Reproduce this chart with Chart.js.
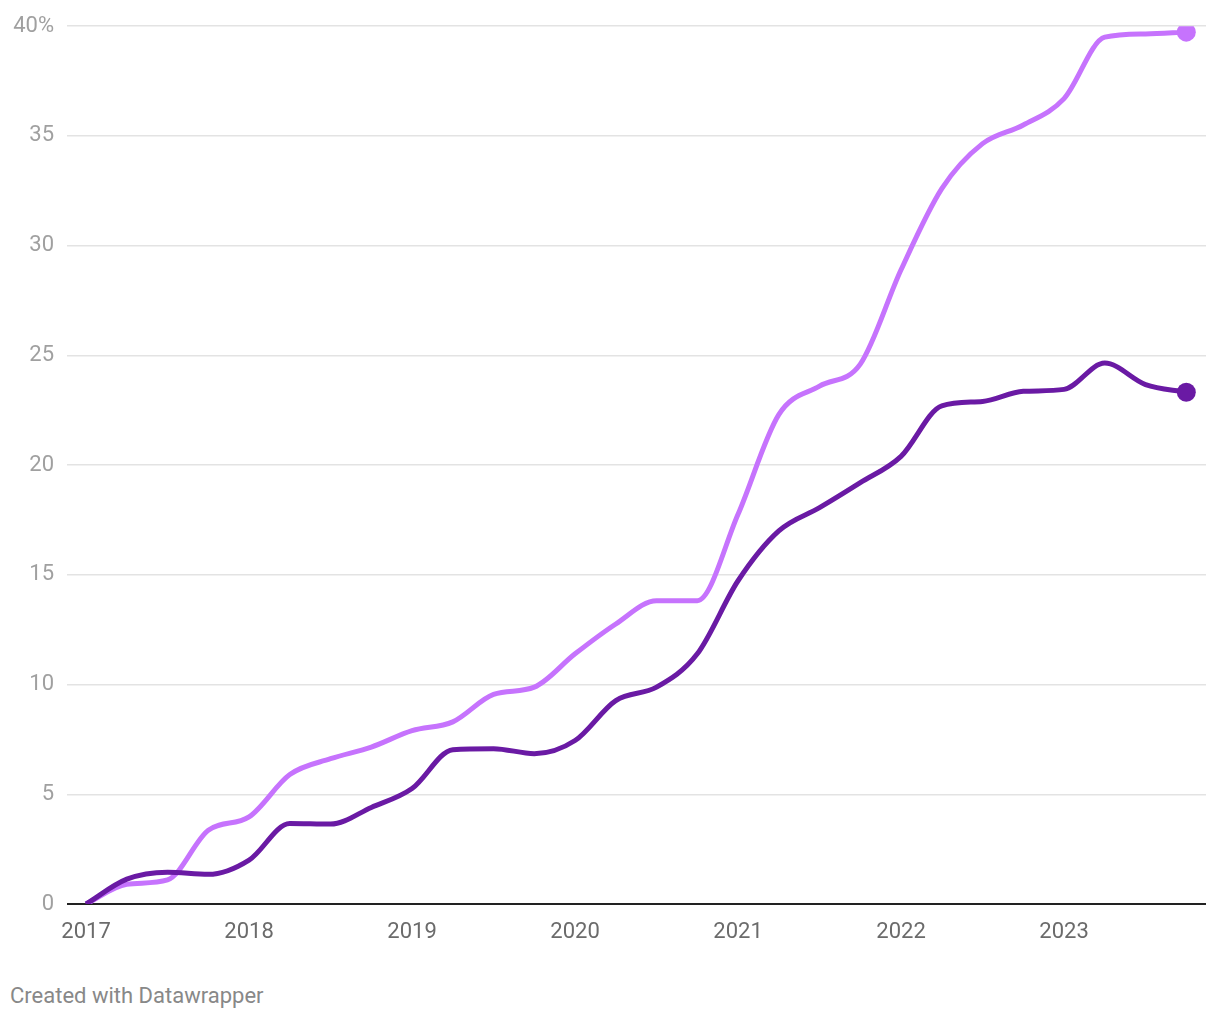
<!DOCTYPE html>
<html>
<head>
<meta charset="utf-8">
<script src="https://cdn.jsdelivr.net/npm/chart.js@4.4.1/dist/chart.umd.min.js"></script>
<style>
    html, body { margin: 0; padding: 0; background: #fff; }
    #wrap { position: relative; width: 1220px; height: 950px; }
    #credit {
        position: absolute; left: 10px; top: 983px;
        font-family: Roboto, sans-serif; font-size: 22px; color: #888;
    }
</style>
</head>
<body>
<div id="wrap"><canvas id="shareChart"></canvas></div>
<div id="credit">Created with Datawrapper</div>
<script>
// quarterly points, as decimal years
const quarters = [
    2017, 2017.25, 2017.5, 2017.75,
    2018, 2018.25, 2018.5, 2018.75,
    2019, 2019.25, 2019.5, 2019.75,
    2020, 2020.25, 2020.5, 2020.75,
    2021, 2021.25, 2021.5, 2021.75,
    2022, 2022.25, 2022.5, 2022.75,
    2023, 2023.25, 2023.5, 2023.75
];
const lightSeries = [
    0, 0.9, 1.1, 3.36,
    3.97, 5.9, 6.62, 7.15,
    7.9, 8.3, 9.55, 9.88,
    11.4, 12.76, 13.82, 13.82,
    17.76, 22.3, 23.6, 24.6,
    28.9, 32.6, 34.65, 35.5,
    36.7, 39.5, 39.65, 39.73
];
const darkSeries = [
    0, 1.13, 1.45, 1.35,
    2.0, 3.67, 3.64, 4.4,
    5.26, 7.03, 7.08, 6.85,
    7.45, 9.27, 9.88, 11.4,
    14.73, 17.0, 18.06, 19.2,
    20.4, 22.7, 22.9, 23.36,
    23.45, 24.65, 23.67, 23.32
];
const yearTicks = [2017, 2018, 2019, 2020, 2021, 2022, 2023];
const yTicks = [0, 5, 10, 15, 20, 25, 30, 35, 40];

const LIGHT = '#c673fd';
const DARK = '#6a1aa4';

function toPoints(values) {
    return values.map((v, i) => ({ x: quarters[i], y: v }));
}

// only the last point gets a dot
function endDot(values) {
    return values.map((v, i) => (i === values.length - 1 ? 9.5 : 0));
}

function makeDataset(values, color) {
    return {
        data: toPoints(values),
        borderColor: color,
        backgroundColor: color,
        borderWidth: 5,
        pointRadius: endDot(values),
        pointHoverRadius: endDot(values),
        pointBorderWidth: 0,
        cubicInterpolationMode: 'monotone',
        fill: false
    };
}

document.addEventListener('DOMContentLoaded', function() {
    const ctx = document.getElementById('shareChart').getContext('2d');
    new Chart(ctx, {
        type: 'line',
        data: {
            datasets: [
                makeDataset(darkSeries, DARK),
                makeDataset(lightSeries, LIGHT)
            ]
        },
        options: {
            responsive: true,
            maintainAspectRatio: false,
            animation: false,
            layout: { padding: { top: 24, right: 14, left: 0, bottom: 0 } },
            plugins: {
                legend: { display: false },
                tooltip: { enabled: false }
            },
            scales: {
                x: {
                    type: 'linear',
                    min: 2016.883,
                    max: 2023.871,
                    afterBuildTicks: scale => {
                        scale.ticks = yearTicks.map(v => ({ value: v }));
                    },
                    afterFit: scale => { scale.height = 46; },
                    grid: { display: false, drawTicks: false },
                    border: { display: false },
                    ticks: {
                        padding: 15,
                        maxRotation: 0,
                        color: '#6b6b6b',
                        font: { family: 'Roboto', size: 22 },
                        callback: v => String(v)
                    }
                },
                y: {
                    min: 0,
                    max: 40,
                    afterBuildTicks: scale => {
                        scale.ticks = yTicks.map(v => ({ value: v }));
                    },
                    afterFit: scale => { scale.width = 67; },
                    grid: {
                        drawTicks: false,
                        color: c => (c.tick.value === 0 ? '#222' : '#e3e3e3'),
                        lineWidth: c => (c.tick.value === 0 ? 2 : 1.5)
                    },
                    border: { display: false },
                    ticks: {
                        padding: 13,
                        color: '#a0a0a0',
                        font: { family: 'Roboto', size: 22 },
                        callback: v => (v === 40 ? '40%' : String(v))
                    }
                }
            }
        }
    });
});
</script>
</body>
</html>
